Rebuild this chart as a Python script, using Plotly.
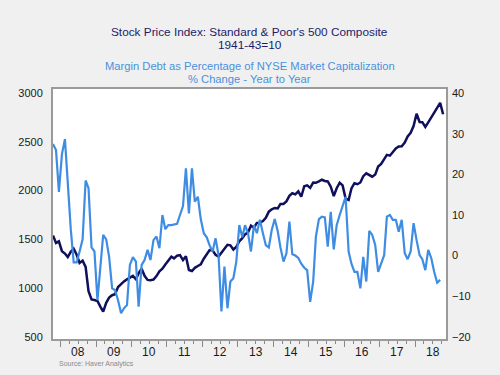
import plotly.graph_objects as go
import pandas as pd

# Monthly dates, Oct 2007 .. Oct 2018 (plotted mid-month)
dates = list(pd.date_range("2007-10-01", periods=133, freq="MS") + pd.Timedelta(days=14))

# S&P 500 monthly average (left axis)
sp500 = [1539, 1463, 1479,
         1378, 1354, 1317, 1371, 1403, 1341, 1257, 1281, 1217, 968, 883, 877,
         866, 806, 757, 848, 902, 926, 935, 1010, 1044, 1068, 1088, 1110,
         1124, 1089, 1152, 1197, 1125, 1083, 1080, 1087, 1122, 1172, 1199, 1242,
         1283, 1321, 1304, 1332, 1338, 1287, 1325, 1185, 1174, 1207, 1226, 1243,
         1301, 1352, 1389, 1386, 1341, 1323, 1360, 1403, 1443, 1438, 1395, 1422,
         1480, 1512, 1551, 1571, 1640, 1619, 1669, 1670, 1687, 1720, 1784, 1808,
         1822, 1817, 1864, 1864, 1890, 1947, 1973, 1962, 1993, 1937, 2045, 2054,
         2028, 2082, 2080, 2095, 2112, 2099, 2094, 2040, 1944, 2025, 2081, 2054,
         1919, 1904, 2022, 2076, 2066, 2084, 2149, 2177, 2158, 2143, 2165, 2247,
         2275, 2330, 2367, 2359, 2395, 2434, 2454, 2456, 2493, 2557, 2594, 2664,
         2790, 2705, 2703, 2654, 2701, 2754, 2794, 2858, 2902, 2785]

# Margin debt as % of NYSE market cap, % change y/y (right axis), Oct 2007 .. Sep 2018
margin = [27.5, 26, 15.7, 25, 28.7, 17.5, 6.5, -1.7, -1.7, 1,
          4, 18.5, 16.6, 2, 1, -11, -3, 5.1, 4.0, -0.3,
          -8.1, -8.5, -11, -14.2, -13, -12.2, -2.3, -0.4, -1.5, -12.6,
          -2.3, -1.1, 1.4, -1.1, 3.8, 4.7, 1.8, 10, 6.5, 7.5,
          7.5, 7.6, 7.8, 10, 12.2, 21.5, 10.4, 21.5, 13.3, 14.5,
          9, 5.5, 4.5, 2.5, 1, 4.3, 0.1, -13.8, -2.7, -13,
          -6.4, -5.6, -1.5, 7.5, 4.5, 7.5, 5.5, 1, 7.5, 5.5,
          8.8, 5.5, 2.6, 2, 6.3, 9, 6, 2, -1.5, 0.5,
          8.4, 0.3, 0, -0.6, -2, -3, -3.6, -11.4, -6.4, 4.7,
          9, 9.6, 9.4, 2.2, 10.8, 1.5, 7.5, 10, 12, 14.5,
          1, -2, -4, -4, -8.1, -0.3, -6.4, 6.1, 5.1, 2.6,
          -4, -1.9, 0.1, 9.6, 10, 8.8, 8.8, 5.9, 8.8, 0.6,
          -0.9, 1, 8, 3.8, 0.1, -0.9, -3.6, 1.4, -0.6, -4,
          -6.7, -6]

left_ticks = [500, 1000, 1500, 2000, 2500, 3000]
right_ticks = [-20, -10, 0, 10, 20, 30, 40]
year_labels = ["08", "09", "10", "11", "12", "13", "14", "15", "16", "17", "18"]
year_label_dates = [f"20{y}-07-02" for y in year_labels]

NAVY = "#0f0f5c"
BLUE = "#3f8de3"
FONT = "Arial, Liberation Sans, sans-serif"

fig = go.Figure()
fig.add_trace(go.Scatter(x=dates[:len(margin)], y=margin, yaxis="y2", mode="lines",
                         line=dict(color=BLUE, width=2.2), showlegend=False))
fig.add_trace(go.Scatter(x=dates, y=sp500, yaxis="y", mode="lines",
                         line=dict(color=NAVY, width=2.5), showlegend=False))

fig.update_layout(
    width=500, height=375,
    margin=dict(l=53, r=54, t=89, b=36),
    paper_bgcolor="#f0f0f0", plot_bgcolor="#ffffff",
    font=dict(family=FONT, size=11, color="#1a1a1a"),
    xaxis=dict(type="date", range=["2007-10-15", "2018-11-14"],
               dtick="M12", tick0="2008-01-01", showticklabels=False,
               ticks="outside", ticklen=6, tickcolor="#888", tickwidth=1,
               minor=dict(dtick="M3", ticks="outside", ticklen=3, tickcolor="#888"),
               showgrid=False, zeroline=False,
               showline=True, linecolor="#9a9a9a", linewidth=2, mirror=True),
    yaxis=dict(range=[476, 3044], tickvals=left_ticks, showgrid=False, zeroline=False,
               showline=True, linecolor="#9a9a9a", linewidth=2, mirror=True,
               ticks="", ticklabelstandoff=6, tickfont=dict(size=11, color="#1a1a1a")),
    yaxis2=dict(range=[-20.57, 41.06], tickvals=right_ticks, overlaying="y", side="right",
                showgrid=False, zeroline=False, showline=False, ticks="",
                ticklabelstandoff=5, tickfont=dict(size=11, color="#1a1a1a")),
)

for lab, d in zip(year_labels, year_label_dates):
    fig.add_annotation(text=lab, xref="x", yref="paper", x=d, y=(339 - 352) / 250,
                       xanchor="center", yanchor="middle", showarrow=False,
                       font=dict(family=FONT, size=12, color="#1a1a1a"))

def ann(text, y, color, size):
    fig.add_annotation(text=text, xref="paper", yref="paper", x=0.5, y=y,
                       xanchor="center", yanchor="middle", showarrow=False,
                       font=dict(family=FONT, size=size, color=color))

ann("Stock Price Index: Standard &amp; Poor's 500 Composite", (339 - 31.7) / 250, "#1c1c6b", 11.8)
ann("1941-43=10", (339 - 45) / 250, "#1c1c6b", 11.8)
ann("Margin Debt as Percentage of NYSE Market Capitalization", (339 - 66) / 250, "#4a90dd", 11.2)
ann("% Change - Year to Year", (339 - 79) / 250, "#4a90dd", 11.2)

fig.add_annotation(text="Source: Haver Analytics", xref="paper", yref="paper",
                   x=(57 - 53) / 393, y=(339 - 364) / 250, xanchor="left", yanchor="middle",
                   showarrow=False, font=dict(family=FONT, size=7, color="#8a8a8a"))

fig.write_html("out.html",
               config={"displayModeBar": False},
               post_script="document.body.style.margin='0';"
                           "document.body.style.background='#f0f0f0';")
